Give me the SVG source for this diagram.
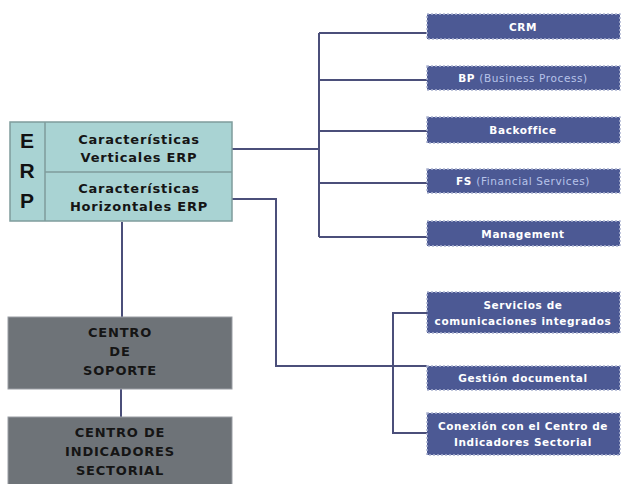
<svg xmlns="http://www.w3.org/2000/svg" width="626" height="484" viewBox="0 0 626 484">
<style>
.conn{fill:none;stroke:#4b4f7a;stroke-width:2}
.blue{fill:#4c5994;stroke:#aab2d0;stroke-width:1.5;stroke-dasharray:2 2}
.gray{fill:#6e7378;stroke:#9a9ea4;stroke-width:1}
.erp{fill:#a9d3d3;stroke:#7f9c9c;stroke-width:1.5}
.wt{font-family:"DejaVu Sans",Verdana,sans-serif;font-size:10.5px;font-weight:bold;fill:#ffffff;text-anchor:middle;letter-spacing:0.6px}
.lt{font-weight:normal;fill:#b8c4ea}
.bt{font-family:"DejaVu Sans",Verdana,sans-serif;font-size:13px;font-weight:bold;fill:#151515;text-anchor:middle;letter-spacing:0.8px}
.big{font-family:"Liberation Sans",Arial,sans-serif;font-size:21px;font-weight:bold;fill:#111111;text-anchor:middle}
</style>
<rect width="626" height="484" fill="#ffffff"/>
<g id="connectors">
<path class="conn" d="M232 149 H319"/>
<path class="conn" d="M319 33 V237"/>
<path class="conn" d="M319 33 H427 M319 80 H427 M319 131 H427 M319 183 H427 M319 237 H427"/>
<path class="conn" d="M232 199 H276 V366 H427"/>
<path class="conn" d="M427 313 H393 V433 H427"/>
<path class="conn" d="M122 222 V317"/>
<path class="conn" d="M121 389 V417"/>
</g>
<g id="erp">
<rect class="erp" x="10" y="122" width="222" height="99"/>
<path d="M45 122 V221 M45 172 H232" stroke="#7f9c9c" stroke-width="1.5" fill="none"/>
<text class="big" x="27" y="148">E</text>
<text class="big" x="27" y="178">R</text>
<text class="big" x="27" y="208">P</text>
<text class="bt" x="139" y="144">Características</text>
<text class="bt" x="139" y="162">Verticales ERP</text>
<text class="bt" x="139" y="193">Características</text>
<text class="bt" x="139" y="211">Horizontales ERP</text>
</g>
<g id="crm"><rect class="blue" x="427" y="14" width="193" height="25"/><text class="wt" x="523" y="31">CRM</text></g>
<g id="bp"><rect class="blue" x="427" y="66" width="193" height="24"/><text class="wt" x="523" y="82">BP <tspan class="lt">(Business Process)</tspan></text></g>
<g id="backoffice"><rect class="blue" x="427" y="117" width="193" height="26"/><text class="wt" x="523" y="134">Backoffice</text></g>
<g id="fs"><rect class="blue" x="427" y="169" width="193" height="24"/><text class="wt" x="523" y="185">FS <tspan class="lt">(Financial Services)</tspan></text></g>
<g id="management"><rect class="blue" x="427" y="221" width="193" height="25"/><text class="wt" x="523" y="238">Management</text></g>
<g id="servicios"><rect class="blue" x="427" y="292" width="193" height="41"/><text class="wt" x="523" y="309">Servicios de</text><text class="wt" x="523" y="325">comunicaciones integrados</text></g>
<g id="gestion"><rect class="blue" x="427" y="366" width="193" height="24"/><text class="wt" x="523" y="382">Gestión documental</text></g>
<g id="conexion"><rect class="blue" x="427" y="413" width="193" height="42"/><text class="wt" x="523" y="430">Conexión con el Centro de</text><text class="wt" x="523" y="446">Indicadores Sectorial</text></g>
<g id="soporte"><rect class="gray" x="8" y="317" width="224" height="72"/><text class="bt" x="120" y="337">CENTRO</text><text class="bt" x="120" y="356">DE</text><text class="bt" x="120" y="375">SOPORTE</text></g>
<g id="indicadores"><rect class="gray" x="8" y="417" width="224" height="70"/><text class="bt" x="120" y="437">CENTRO DE</text><text class="bt" x="120" y="456">INDICADORES</text><text class="bt" x="120" y="475">SECTORIAL</text></g>
</svg>
